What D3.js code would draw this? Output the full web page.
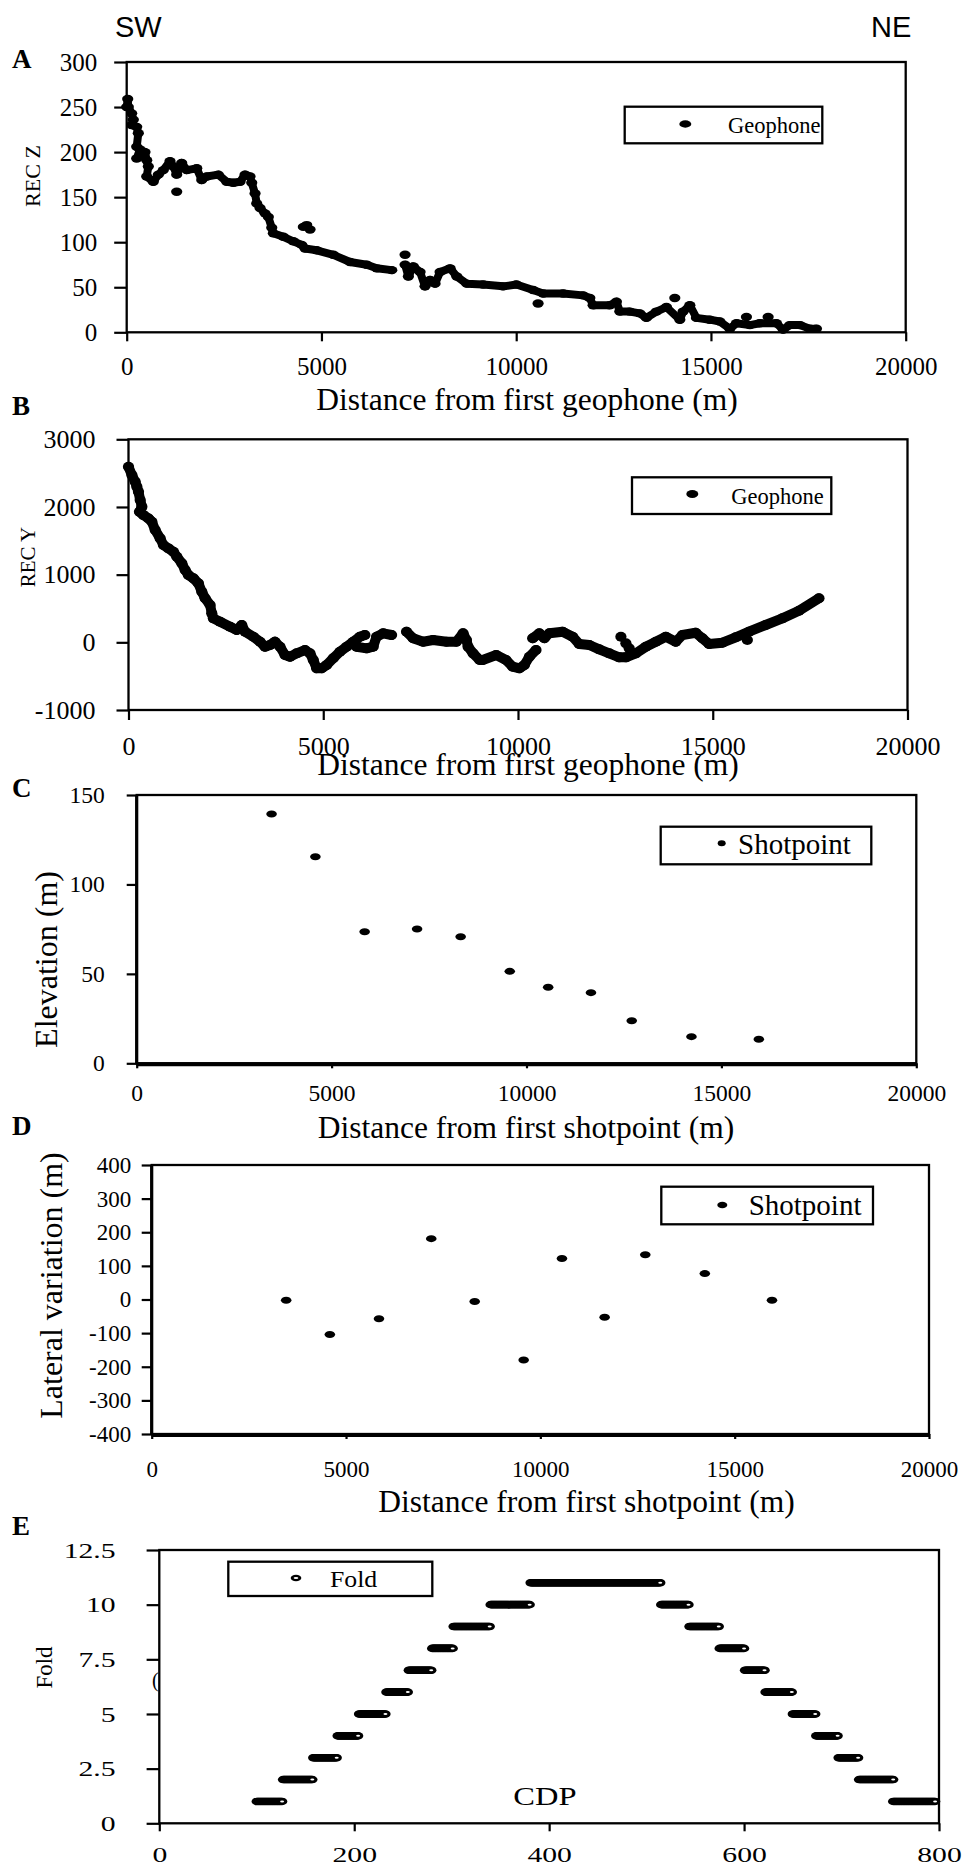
<!DOCTYPE html>
<html lang="en">
<head>
<meta charset="utf-8">
<title>Receiver and shot geometry</title>
<script src="https://cdnjs.cloudflare.com/ajax/libs/d3/7.8.5/d3.min.js"></script>
<style>
  body { margin: 0; background: #fff; }
  svg text { font-family: "Liberation Serif", "Times New Roman", serif; fill: #000; }
  svg text.sans { font-family: "Liberation Sans", Arial, sans-serif; }
</style>
</head>
<body>
<div id="chart"></div>
<script>
// ---- data ----
// A: receiver elevation (REC Z) vs distance, null = gap in the trace
const recZ = [
  [0,250],[26,259],[41,250],[128,243],[170,236],[128,230],[257,228],[298,221],[257,206],[342,203],[257,193],
  [470,200],[514,191],[555,184],[514,173],[683,167],[812,175],[940,180],[1112,190],[1197,184],[1284,175],
  [1412,188],[1541,180],[1798,182],[1926,169],[2054,173],[2352,175],[2568,167],[2738,166],[2910,167],
  [3038,175],[3166,173],[3210,166],[3295,154],[3338,143],[3423,138],[3552,132],[3636,128],[3724,116],
  [3765,110],[4022,106],[4278,101],[4494,97],[4579,93],[4879,91],[5306,86],[5734,78],[6163,75],[6420,71],[6805,69],
  null,
  [7147,75],[7232,62],[7360,73],[7532,67],[7660,51],[7789,58],[7917,54],[8046,67],[8303,71],[8475,62],
  [8731,54],[9150,53],[9663,51],[10005,53],[10434,47],[10691,43],[11204,43],[11718,41],[11890,38],
  [11975,30],[12403,30],[12573,34],[12660,23],[12917,23],[13174,21],[13343,16],[13600,23],[13857,28],
  [14201,14],[14286,23],[14458,30],[14627,16],[14971,14],[15228,12],[15485,4],[15655,10],[15999,8],
  [16255,10],[16682,10],[16854,3],[17025,8],[17283,8],[17539,4],[17709,4]
];
const recZOut = [[1284,156],[4535,117],[4707,114],[4622,119],[7147,86],[10562,32],[14072,38],[15911,17],[16468,17]];

// B: receiver lateral position (REC Y) vs distance
const recY = [
  [0,2594],[87,2471],[172,2372],[215,2298],[256,2224],[300,2102],[343,2003],[282,1929],[385,1880],[513,1831],
  [600,1781],[685,1659],[813,1536],[897,1437],[1026,1388],[1154,1338],[1241,1264],[1369,1167],[1454,1068],
  [1538,994],[1667,945],[1795,871],[1882,747],[1967,650],[2095,551],[2138,428],[2179,354],[2351,304],
  [2608,230],[2779,182],[2908,256],[2993,157],[3205,83],[3377,9],[3505,-65],[3633,-40],[3761,9],[3890,-65],
  [4018,-188],[4146,-213],[4317,-163],[4531,-114],[4659,-163],[4744,-261],[4830,-384],[4959,-384],[5087,-335],
  [5256,-236],[5428,-139],[5600,-65],[5769,9],[5941,83],[6069,108],
  null,
  [5856,-65],[6113,-89],[6282,-65],[6369,83],[6538,133],[6754,108],
  null,
  [7138,157],[7307,59],[7564,9],[7820,34],[8164,9],[8420,9],[8590,133],[8676,34],[8718,-65],[8846,-163],
  [9017,-261],[9095,-261],[9440,-188],[9692,-261],[9864,-360],[10036,-384],[10164,-335],[10292,-213],[10462,-114],
  null,
  [10377,59],[10548,133],[10676,59],[10805,133],[11146,157],[11402,83],[11573,-25],[11830,-40],[12086,-104],
  [12343,-163],[12599,-222],[12770,-222],[13026,-163],[13282,-65],[13539,9],[13795,83],[14051,9],[14222,108],
  [14563,142],[14735,59],[14906,-25],[15248,-6],[15590,74],[15931,157],[16358,256],[16786,354],[17213,467],[17727,650]
];
const recYOut = [[12642,83],[12770,-15],[12855,-89],[15888,34]];

// C, D: shotpoints
const shotDist = [3460, 4584, 5848, 7193, 8311, 9571, 10556, 11654, 12700, 14232, 15960];
const shotElev = [139.4, 115.5, 73.6, 75.1, 70.8, 51.4, 42.5, 39.5, 23.8, 14.9, 13.4];
const shotLat  = [-2, -104, -57, 181, -6, -180, 122, -53, 133, 77, -2];

// E: fold per CDP, as constant runs
const foldFrom = [100,127,158,183,205,233,256,280,302,340,381,515,544,575,601,622,650,674,697,718,753];
const foldTo   = [126,157,182,204,232,255,279,301,339,380,514,543,574,600,621,649,673,696,717,753,796];
const foldVal  = [1,2,3,4,5,6,7,8,9,10,11,10,9,8,7,6,5,4,3,2,1];

const distTicks = [0, 5000, 10000, 15000, 20000];

const svg = d3.select('#chart').append('svg')
  .attr('width', 966).attr('height', 1869);

function stretch(sel, k) {
  sel.each(function () {
    const w = this.getComputedTextLength();
    d3.select(this).attr('textLength', w * k).attr('lengthAdjust', 'spacingAndGlyphs');
  });
}

function label(x, y, str, size, opt) {
  opt = opt || {};
  const t = svg.append('text')
    .attr('x', x).attr('y', y)
    .attr('font-size', size)
    .attr('text-anchor', opt.anchor || 'start')
    .text(str);
  if (opt.bold) t.attr('font-weight', 'bold');
  if (opt.cls) t.attr('class', opt.cls);
  if (opt.rotate) t.attr('transform', `rotate(-90,${x},${y})`);
  return t;
}

function panel(p) {
  const x = d3.scaleLinear().domain(p.xDomain).range([p.left, p.right]);
  const y = d3.scaleLinear().domain(p.yDomain).range([p.bottom, p.top]);
  const g = svg.append('g');

  const ya = g.append('g').attr('transform', `translate(${p.left},0)`)
    .call(d3.axisLeft(y).tickValues(p.yTicks).tickSize(p.yTickLen).tickSizeOuter(0)
      .tickPadding(p.yPad).tickFormat(d => String(d)));
  const xa = g.append('g').attr('transform', `translate(0,${p.bottom})`)
    .call(d3.axisBottom(x).tickValues(p.xTicks).tickSize(p.xTickLen).tickSizeOuter(0)
      .tickPadding(p.xPad).tickFormat(d => String(d)));
  [ya, xa].forEach(a => {
    a.attr('font-family', null).attr('font-size', null);
    a.select('.domain').remove();
    a.selectAll('line').attr('stroke', '#000').attr('stroke-width', 2.2);
    a.selectAll('text').attr('font-size', p.tickFont).attr('fill', '#000');
    if (p.stretch) stretch(a.selectAll('text'), p.stretch);
  });

  // plot frame
  g.append('rect')
    .attr('x', p.left).attr('y', p.top)
    .attr('width', p.right - p.left).attr('height', p.bottom - p.top)
    .attr('fill', 'none').attr('stroke', '#000').attr('stroke-width', 2.3);
  if (p.heavy) {
    g.append('line').attr('x1', p.left).attr('x2', p.right)
      .attr('y1', p.bottom + 1).attr('y2', p.bottom + 1)
      .attr('stroke', '#000').attr('stroke-width', 4);
    g.append('line').attr('x1', p.left).attr('x2', p.left)
      .attr('y1', p.top).attr('y2', p.bottom)
      .attr('stroke', '#000').attr('stroke-width', 3.2);
  }
  return { x, y, g };
}

function legend(box, marker, text, size) {
  svg.append('rect')
    .attr('x', box[0]).attr('y', box[1])
    .attr('width', box[2] - box[0]).attr('height', box[3] - box[1])
    .attr('fill', '#fff').attr('stroke', '#000').attr('stroke-width', 2.3);
  svg.append('ellipse').attr('cx', marker[0]).attr('cy', marker[1])
    .attr('rx', marker[2]).attr('ry', marker[3]).attr('fill', '#000');
  return label(text[0], text[1], text[2], size);
}

// dense geophone trace: thick line through runs + dots
function trace(pn, pts, outs, lw, rx, ry) {
  const line = d3.line().defined(d => d !== null).x(d => pn.x(d[0])).y(d => pn.y(d[1]));
  pn.g.append('path').datum(pts).attr('d', line)
    .attr('fill', 'none').attr('stroke', '#000').attr('stroke-width', lw)
    .attr('stroke-linejoin', 'round').attr('stroke-linecap', 'round');
  pn.g.append('g').selectAll('ellipse')
    .data(pts.filter(d => d !== null).concat(outs))
    .join('ellipse')
    .attr('cx', d => pn.x(d[0])).attr('cy', d => pn.y(d[1]))
    .attr('rx', rx).attr('ry', ry).attr('fill', '#000');
}

// ---- header ----
label(115, 37, 'SW', 29, { cls: 'sans' });
label(871, 37, 'NE', 29, { cls: 'sans' });

// ---- A ----
const pA = panel({
  left: 126.7, right: 905.7, top: 62, bottom: 332.3,
  xDomain: [0, 20000], yDomain: [0, 300],
  xTicks: distTicks, yTicks: d3.range(0, 301, 50),
  yTickLen: 12.5, xTickLen: 9, yPad: 17, xPad: 16, tickFont: 25
});
trace(pA, recZ, recZOut, 8, 5.6, 4.2);
legend([624.7, 106.7, 822.3, 143.3], [685.3, 124, 6, 3.7], [728, 132.5, 'Geophone'], 22.5);
label(12, 68, 'A', 27, { bold: true });
label(527, 410, 'Distance from first geophone (m)', 31.5, { anchor: 'middle' });
label(40, 176, 'REC Z', 22, { anchor: 'middle', rotate: true });

// ---- B ----
const pB = panel({
  left: 128.5, right: 907.5, top: 439.3, bottom: 710,
  xDomain: [0, 20000], yDomain: [-1000, 3000],
  xTicks: distTicks, yTicks: d3.range(-1000, 3001, 1000),
  yTickLen: 12, xTickLen: 10, yPad: 21, xPad: 17, tickFont: 26
});
trace(pB, recY, recYOut, 10, 5.6, 5);
legend([632, 477.3, 831.3, 514], [692.3, 494, 6, 4], [731.3, 504, 'Geophone'], 22.5);
label(12, 415, 'B', 27, { bold: true });
label(528, 775, 'Distance from first geophone (m)', 31.5, { anchor: 'middle' });
label(35, 557, 'REC Y', 21, { anchor: 'middle', rotate: true });

// ---- C ----
const pC = panel({
  left: 136.7, right: 916.3, top: 795, bottom: 1063.3, heavy: true,
  xDomain: [0, 20000], yDomain: [0, 150],
  xTicks: distTicks, yTicks: [0, 50, 100, 150],
  yTickLen: 10, xTickLen: 5, yPad: 22, xPad: 16, tickFont: 23.5
});
pC.g.append('g').selectAll('ellipse').data(shotDist).join('ellipse')
  .attr('cx', d => pC.x(d)).attr('cy', (d, i) => pC.y(shotElev[i]))
  .attr('rx', 5.3).attr('ry', 3.5).attr('fill', '#000');
legend([660.7, 826.7, 871.3, 864.3], [721.7, 843.3, 4, 3], [738, 854, 'Shotpoint'], 29);
label(12, 797, 'C', 27, { bold: true });
label(526, 1138, 'Distance from first shotpoint (m)', 31.5, { anchor: 'middle' });
label(56.7, 959.5, 'Elevation (m)', 32, { anchor: 'middle', rotate: true });

// ---- D ----
const pD = panel({
  left: 151.7, right: 929, top: 1165, bottom: 1434, heavy: true,
  xDomain: [0, 20000], yDomain: [-400, 400],
  xTicks: distTicks, yTicks: d3.range(-400, 401, 100),
  yTickLen: 10, xTickLen: 5, yPad: 10.5, xPad: 22, tickFont: 23
});
pD.g.append('g').selectAll('ellipse').data(shotDist).join('ellipse')
  .attr('cx', d => pD.x(d)).attr('cy', (d, i) => pD.y(shotLat[i]))
  .attr('rx', 5.3).attr('ry', 3.5).attr('fill', '#000');
legend([661.3, 1186.7, 873, 1224.3], [722.3, 1205, 5, 3.3], [748.7, 1215, 'Shotpoint'], 29);
label(12, 1135, 'D', 27, { bold: true });
label(586.5, 1512, 'Distance from first shotpoint (m)', 31.5, { anchor: 'middle' });
label(61.7, 1285.5, 'Lateral variation (m)', 32, { anchor: 'middle', rotate: true });

// ---- E ----
const pE = panel({
  left: 159.3, right: 939, top: 1550, bottom: 1823.3,
  xDomain: [0, 800], yDomain: [0, 12.5],
  xTicks: [0, 200, 400, 600, 800], yTicks: d3.range(0, 12.6, 2.5),
  yTickLen: 12.7, xTickLen: 8, yPad: 31, xPad: 15, tickFont: 22, stretch: 1.35
});
const foldPts = [];
foldVal.forEach((f, i) => {
  d3.range(foldFrom[i], foldTo[i] + 1).forEach(c => foldPts.push([c, f]));
});
const fp = pE.g.append('g').selectAll('g').data(foldPts).join('g')
  .attr('transform', d => `translate(${pE.x(d[0])},${pE.y(d[1])})`);
fp.append('ellipse').attr('rx', 5.2).attr('ry', 3.8).attr('fill', '#000');
fp.append('ellipse').attr('rx', 2).attr('ry', 1).attr('fill', '#fff');

svg.append('rect').attr('x', 228.3).attr('y', 1561.7).attr('width', 204).attr('height', 34.3)
  .attr('fill', '#fff').attr('stroke', '#000').attr('stroke-width', 2.3);
svg.append('ellipse').attr('cx', 296).attr('cy', 1578).attr('rx', 5.3).attr('ry', 3.3).attr('fill', '#000');
svg.append('ellipse').attr('cx', 296).attr('cy', 1578).attr('rx', 2.4).attr('ry', 1.1).attr('fill', '#fff');
stretch(label(330, 1587.3, 'Fold', 23), 1.12);
stretch(label(545, 1805, 'CDP', 25, { anchor: 'middle' }), 1.3);
label(12, 1535, 'E', 27, { bold: true });
label(52, 1667.5, 'Fold', 23, { anchor: 'middle', rotate: true });
label(152, 1687, '(', 20);
</script>
</body>
</html>
